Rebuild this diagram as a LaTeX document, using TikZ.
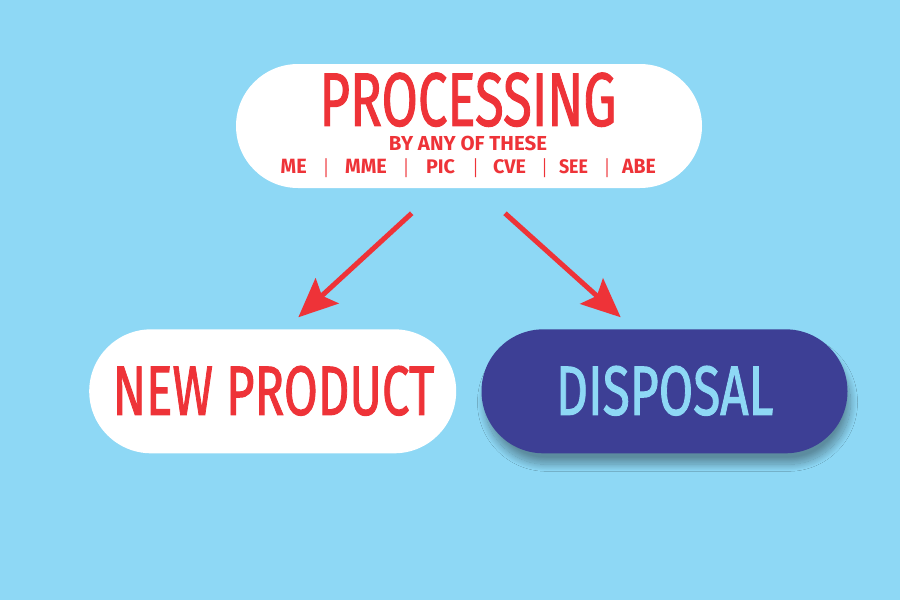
\documentclass[tikz,border=0pt]{standalone}
\usepackage{fontspec}
\usepackage{graphicx}
\setmainfont{Fira Sans}
\newfontfamily\medfont[FakeBold=1.6]{Fira Sans}
\usetikzlibrary{arrows.meta,shapes.misc,shadows.blur}
\definecolor{bg}{HTML}{8ED8F5}
\definecolor{myred}{HTML}{EE3338}
\definecolor{navy}{HTML}{3D3F95}
\newcommand{\fitt}[3]{\resizebox*{#1}{#2}{\bfseries #3}}
\newcommand{\fitr}[3]{\resizebox*{#1}{#2}{\medfont #3}}
\begin{document}
\begin{tikzpicture}[x=1pt,y=-1pt,
  pill/.style={rounded rectangle, inner sep=0pt, minimum height=124pt},
  lbl/.style={inner sep=0pt, text=myred},
  arr/.style={draw=myred, line width=5pt, -{Stealth[length=39pt,width=34pt,inset=7pt]}}]
\fill[bg] (0,0) rectangle (900,600);
\useasboundingbox (0,0) rectangle (900,600);
% pills
\node[pill, fill=white, minimum width=466pt] (proc) at (469,126) {};
\node[pill, fill=white, minimum width=367pt] (newp) at (272.7,391.3) {};
\node[pill, fill=navy, minimum width=366pt,
  blur shadow={shadow xshift=3pt, shadow yshift=-11pt, shadow blur radius=7pt, shadow blur steps=20, shadow opacity=35}] (disp) at (664.5,391.3) {};
% texts
\node[lbl] (t1) at (468,99.7) {\fitr{297pt}{54pt}{PROCESSING}};
\node[lbl] (t2) at (468,143.5) {\fitt{158pt}{14.7pt}{BY ANY OF THESE}};
\node[lbl] (m1) at (293.7,166.2) {\fitt{26pt}{14.3pt}{ME}};
\node[lbl] (m2) at (366,166.2) {\fitt{41.7pt}{14.3pt}{MME}};
\node[lbl] (m3) at (440.5,166.2) {\fitt{29pt}{14.3pt}{PIC}};
\node[lbl] (m4) at (509.5,166.2) {\fitt{33pt}{14.3pt}{CVE}};
\node[lbl] (m5) at (573.5,166.2) {\fitt{29pt}{14.3pt}{SEE}};
\node[lbl] (m6) at (639,166.2) {\fitt{33.7pt}{14.3pt}{ABE}};
\node[lbl] (b1) at (326,167.8) {\fitt{3pt}{19pt}{|}};
\node[lbl] (b2) at (406,167.8) {\fitt{3pt}{19pt}{|}};
\node[lbl] (b3) at (475.5,167.8) {\fitt{3pt}{19pt}{|}};
\node[lbl] (b4) at (544.5,167.8) {\fitt{3pt}{19pt}{|}};
\node[lbl] (b5) at (607,167.8) {\fitt{3pt}{19pt}{|}};
\node[lbl] (t3) at (273.5,390.8) {\fitr{321.6pt}{49.7pt}{NEW PRODUCT}};
\node[lbl, text=bg] (t4) at (664.7,390.8) {\fitr{217.3pt}{49.7pt}{DISPOSAL}};
% arrows
\coordinate (a1) at (411.7,213.3);
\coordinate (a2) at (298.3,317.3);
\coordinate (c1) at (505,213.3);
\coordinate (c2) at (620.7,317.3);
\draw[arr] (a1) -- (a2);
\draw[arr] (c1) -- (c2);
\end{tikzpicture}
\end{document}
